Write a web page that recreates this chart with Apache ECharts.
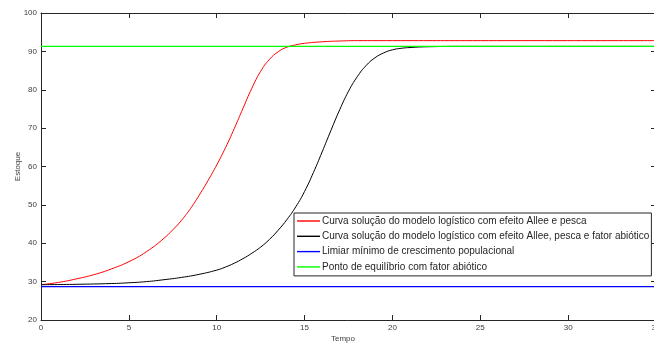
<!DOCTYPE html>
<html>
<head>
<meta charset="utf-8">
<script src="https://cdn.jsdelivr.net/npm/echarts@6/dist/echarts.min.js"></script>
<style>html,body{margin:0;padding:0;background:#fff;}#c{width:654px;height:345px;}</style>
</head>
<body>
<div id="c"></div>
<script>
// Data
var redT   = [0, 1, 2, 3, 4, 5, 6, 7, 7.5, 8, 8.5, 9, 9.5, 10, 10.5, 11, 11.5, 12, 12.5, 13, 13.5, 14, 14.5, 15, 16, 17, 18, 20, 25, 35];
var redV   = [29.2, 29.8, 30.7, 31.8, 33.3, 35.2, 37.8, 41.3, 43.5, 46.0, 49.0, 52.5, 56.3, 60.4, 64.9, 69.9, 75.2, 80.4, 84.8, 87.9, 89.9, 91.1, 91.7, 92.1, 92.5, 92.7, 92.8, 92.8, 92.8, 92.8];
var blackT = [0, 2, 4, 5, 6, 7, 8, 9, 10, 10.5, 11, 11.5, 12, 12.5, 13, 13.5, 14, 14.5, 15, 15.5, 16, 16.5, 17, 17.5, 18, 18.5, 19, 19.5, 20, 20.5, 21, 22, 24, 35];
var blackV = [29.2, 29.3, 29.5, 29.7, 30.0, 30.5, 31.1, 31.9, 33.0, 33.8, 34.8, 36.0, 37.4, 39.0, 41.0, 43.4, 46.2, 49.5, 53.5, 58.4, 63.8, 69.4, 74.8, 79.6, 83.4, 86.3, 88.3, 89.6, 90.4, 90.8, 91.0, 91.2, 91.3, 91.3];
var limiarT = [0, 35];
var limiarV = [28.7, 28.7];
var equilT = [0, 35];
var equilV = [91.3, 91.3];
var xTicks = [0, 5, 10, 15, 20, 25, 30, 35];
var yTicks = [20, 30, 40, 50, 60, 70, 80, 90, 100];
var names = [
  'Curva solução do modelo logístico com efeito Allee e pesca',
  'Curva solução do modelo logístico com efeito Allee, pesca e fator abiótico',
  'Limiar mínimo de crescimento populacional',
  'Ponto de equilíbrio com fator abiótico'
];

function pairs(t, v) { return t.map(function (x, i) { return [x, v[i]]; }); }

var axisCol = '#262626';
var font = 'Liberation Sans, Arial, sans-serif';
var chart = echarts.init(document.getElementById('c'), null, {renderer: 'canvas'});

function xAx(pos, showLabel) {
  return {
    type: 'value', position: pos, min: xTicks[0], max: xTicks[xTicks.length - 1], interval: 5,
    axisLine: {show: true, onZero: false, lineStyle: {color: axisCol, width: 1}},
    axisTick: {show: true, inside: true, length: 5, lineStyle: {color: axisCol}},
    axisLabel: {show: showLabel, color: '#404040', fontSize: 8, fontFamily: font, margin: 4},
    splitLine: {show: false}
  };
}
function yAx(pos, showLabel) {
  return {
    type: 'value', position: pos, min: yTicks[0], max: yTicks[yTicks.length - 1], interval: 10,
    axisLine: {show: true, onZero: false, lineStyle: {color: axisCol, width: 1}},
    axisTick: {show: true, inside: true, length: 5, lineStyle: {color: axisCol}},
    axisLabel: {show: showLabel, color: '#404040', fontSize: 8, fontFamily: font, margin: 4},
    splitLine: {show: false},
    name: showLabel ? 'Estoque' : '', nameLocation: 'middle', nameGap: 19.5, nameMoveOverlap: false,
    nameTextStyle: {color: '#404040', fontSize: 8, fontFamily: font}
  };
}

var lineSeries = function (name, data, color, width, smooth) {
  return {
    name: name, type: 'line', data: data, showSymbol: false, symbol: 'none',
    smooth: smooth ? 0.5 : false, animation: false,
    lineStyle: {color: color, width: width}, itemStyle: {color: color},
    xAxisIndex: 0, yAxisIndex: 0, z: 2
  };
};

chart.setOption({
  animation: false,
  backgroundColor: '#fff',
  grid: {left: 41, top: 13, width: 615, height: 307, containLabel: false, outerBoundsMode: 'none'},
  xAxis: [xAx('bottom', true), xAx('top', false)],
  yAxis: [yAx('left', true), yAx('right', false)],
  legend: {
    orient: 'vertical', left: 294, top: 213,
    data: names, icon: 'rect',
    backgroundColor: '#fff', borderColor: axisCol, borderWidth: 1, borderRadius: 0,
    padding: [1, 2, 2, 3], itemGap: 1.3, itemWidth: 23, itemHeight: 1.4,
    textStyle: {color: '#262626', fontSize: 10, fontFamily: font, lineHeight: 14, padding: [0, 0, 0, -3]}
  },
  graphic: [{
    type: 'text', left: 331, top: 335,
    style: {text: 'Tempo', fill: '#404040', font: '8px ' + font}
  }],
  series: [
    lineSeries(names[0], pairs(redT, redV), '#ff0000', 1, true),
    lineSeries(names[1], pairs(blackT, blackV), '#000000', 1, true),
    lineSeries(names[2], pairs(limiarT, limiarV), '#0000ff', 1.3, false),
    lineSeries(names[3], pairs(equilT, equilV), '#00ff00', 1.3, false)
  ]
});
</script>
</body>
</html>
